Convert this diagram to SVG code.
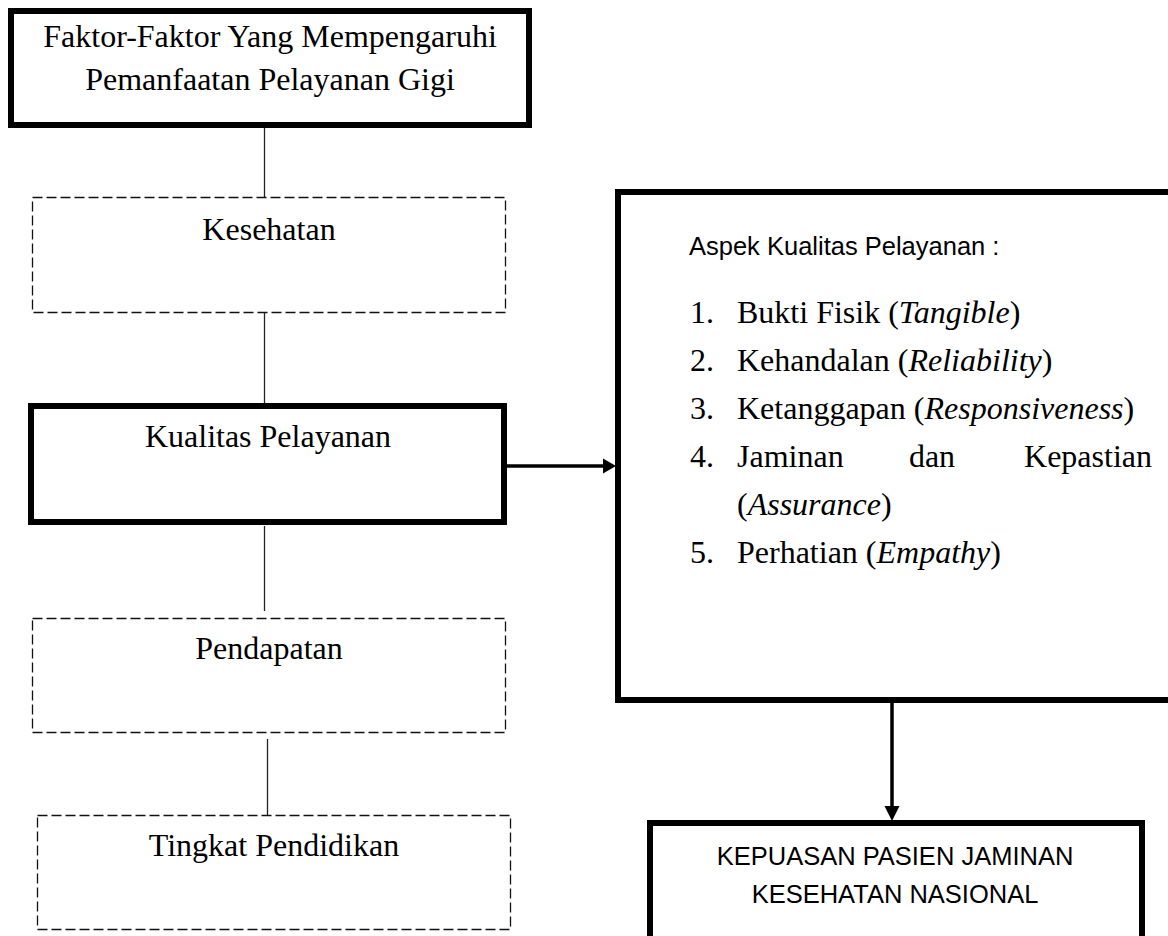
<svg xmlns="http://www.w3.org/2000/svg" width="1168" height="936" viewBox="0 0 1168 936">
<style>
.thick{fill:#fff;stroke:#000;stroke-width:6}
.dash{fill:#fff;stroke:#111;stroke-width:1.3;stroke-dasharray:10 4}
.conn{stroke:#222;stroke-width:1.3;fill:none}
.arr{stroke:#000;stroke-width:3.5;fill:none}
.serif{font-family:"Liberation Serif","Times New Roman",serif;font-size:32px;fill:#000}
.sans{font-family:"Liberation Sans",Arial,sans-serif;font-size:25.5px;fill:#000}
.c{text-anchor:middle}
</style>
<rect width="1168" height="936" fill="#fff"/>
<g id="connectors">
<line class="conn" x1="264.5" y1="128" x2="264.5" y2="197.5"/>
<line class="conn" x1="264.5" y1="312.5" x2="264.5" y2="403"/>
<line class="conn" x1="264.5" y1="526" x2="264.5" y2="611"/>
<line class="conn" x1="267.5" y1="739" x2="267.5" y2="816"/>
<line class="arr" x1="507" y1="466" x2="606" y2="466"/>
<polygon points="603,458.5 616,466 603,473.5" fill="#000"/>
<line class="arr" x1="892" y1="703" x2="892" y2="808"/>
<polygon points="884.5,806 899.5,806 892,821" fill="#000"/>
</g>
<g id="faktor">
<rect class="thick" x="11" y="11" width="518" height="114"/>
<text class="serif c" x="270" y="47">Faktor-Faktor Yang Mempengaruhi</text>
<text class="serif c" x="270" y="90">Pemanfaatan Pelayanan Gigi</text>
</g>
<g id="kesehatan">
<rect class="dash" x="32.5" y="197.5" width="473" height="115"/>
<text class="serif c" x="269" y="240">Kesehatan</text>
</g>
<g id="kualitas">
<rect class="thick" x="31" y="406" width="473" height="116"/>
<text class="serif c" x="268" y="447">Kualitas Pelayanan</text>
</g>
<g id="pendapatan">
<rect class="dash" x="32.5" y="618.5" width="473" height="114"/>
<text class="serif c" x="269" y="659">Pendapatan</text>
</g>
<g id="tingkat">
<rect class="dash" x="37.5" y="815.5" width="473" height="114"/>
<text class="serif c" x="274" y="856">Tingkat Pendidikan</text>
</g>
<g id="aspek">
<rect class="thick" x="618" y="192" width="560" height="508"/>
<text class="sans" x="689" y="255">Aspek Kualitas Pelayanan :</text>
<text class="serif" x="690" y="323">1.</text>
<text class="serif" x="737" y="323">Bukti Fisik (<tspan font-style="italic">Tangible</tspan>)</text>
<text class="serif" x="690" y="371">2.</text>
<text class="serif" x="737" y="371">Kehandalan (<tspan font-style="italic">Reliability</tspan>)</text>
<text class="serif" x="690" y="419">3.</text>
<text class="serif" x="737" y="419">Ketanggapan (<tspan font-style="italic">Responsiveness</tspan>)</text>
<text class="serif" x="690" y="467">4.</text>
<text class="serif" x="737" y="467">Jaminan</text>
<text class="serif" x="932" y="467" text-anchor="middle">dan</text>
<text class="serif" x="1152" y="467" text-anchor="end">Kepastian</text>
<text class="serif" x="737" y="515">(<tspan font-style="italic">Assurance</tspan>)</text>
<text class="serif" x="690" y="563">5.</text>
<text class="serif" x="737" y="563">Perhatian (<tspan font-style="italic">Empathy</tspan>)</text>
</g>
<g id="kepuasan">
<rect class="thick" x="650" y="823" width="492" height="130"/>
<text class="sans c" x="895" y="865">KEPUASAN PASIEN JAMINAN</text>
<text class="sans c" x="895" y="903">KESEHATAN NASIONAL</text>
</g>
</svg>
